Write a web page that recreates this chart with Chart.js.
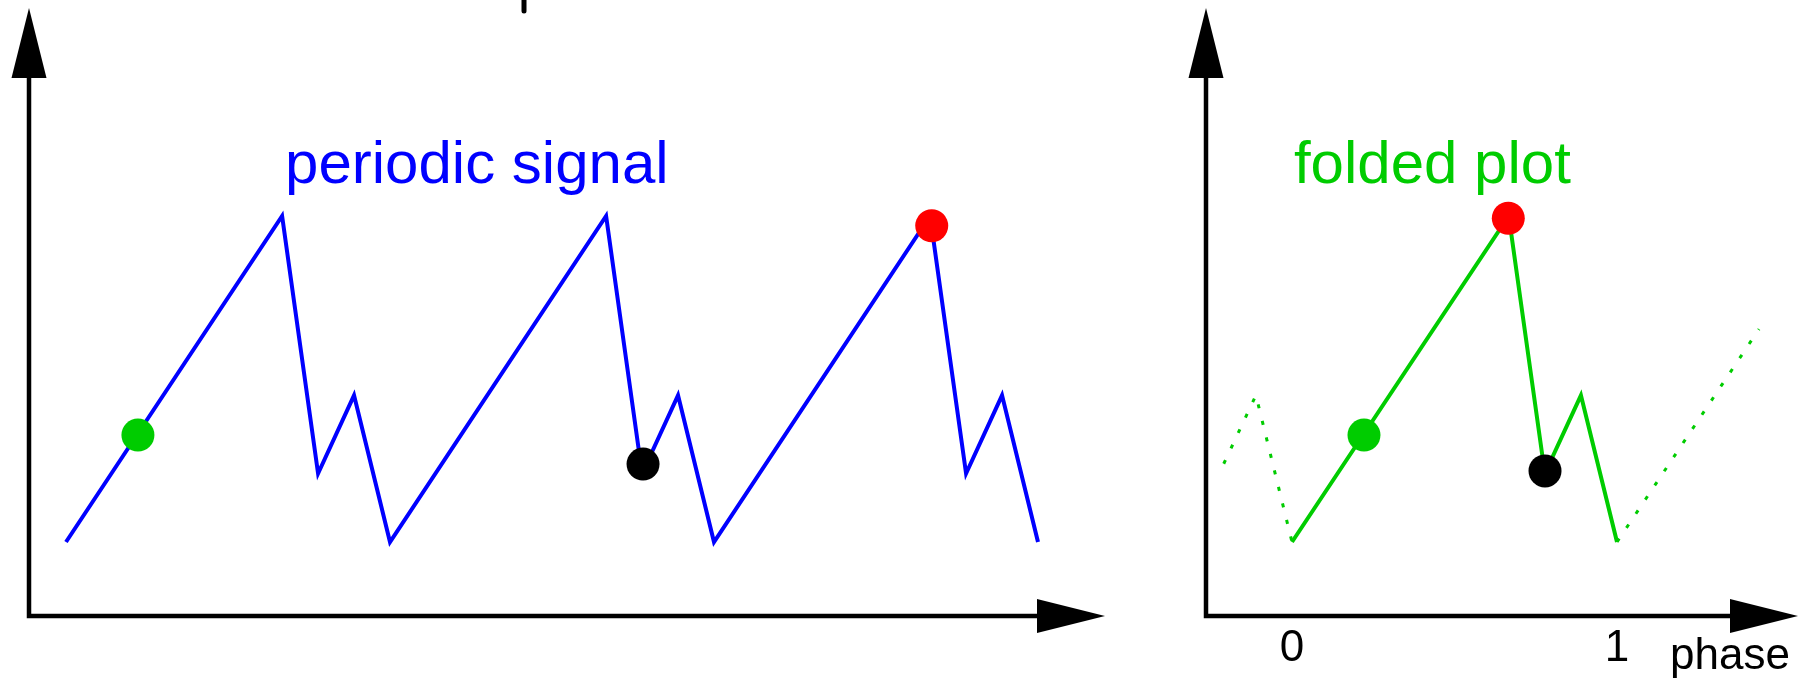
<!DOCTYPE html>
<html>
<head>
<meta charset="utf-8">
<title>periodic signal / folded plot</title>
<script src="https://cdn.jsdelivr.net/npm/chart.js@4.4.1/dist/chart.umd.min.js"></script>
<style>
    html, body { margin: 0; padding: 0; background: #fff; }
    body { width: 1799px; height: 680px; position: relative; overflow: hidden; }
    canvas { position: absolute; top: 0; }
    #signalChart { left: 0; }
    #foldedChart { left: 1180px; }
</style>
</head>
<body>
<canvas id="signalChart" width="1180" height="680"></canvas>
<canvas id="foldedChart" width="619" height="680"></canvas>
<script>
// time axis in units of one period, amplitude normalised to the peak
const signalT = [0, 0.667, 0.778, 0.889, 1, 1.667, 1.778, 1.889, 2, 2.667, 2.778, 2.889, 3];
const signalY = [0, 1, 0.21, 0.45, 0, 1, 0.21, 0.45, 0, 1, 0.21, 0.45, 0];

// three marked samples (green, black, red)
const markT = [0.222, 1.781, 2.672];
const markY = [0.328, 0.239, 0.970];

// same signal folded onto one period
const foldPhase = [0, 0.667, 0.778, 0.889, 1];
const foldY = [0, 1, 0.21, 0.45, 0];
const prePhase = [-0.21, -0.111, 0];
const preY = [0.24, 0.45, 0];
const postPhase = [1, 1.437];
const postY = [0, 0.653];

const foldMarkPhase = [0.2215, 0.7785, 0.6655];
const foldMarkY = [0.328, 0.218, 0.993];

const phaseTicks = ['0', '1'];
const markColors = ['#00cc00', '#000000', '#ff0000'];

const BLUE = '#0000ff';
const GREEN = '#00cc00';
const FONT = '"Liberation Sans", Arial, Helvetica, sans-serif';

const toPoints = (xs, ys) => xs.map((x, i) => ({ x: x, y: ys[i] }));

// axes with arrow heads, plus captions
const arrowAxes = {
    id: 'arrowAxes',
    afterDraw(chart, args, opts) {
        const { ctx, chartArea: a } = chart;
        ctx.save();
        ctx.fillStyle = '#000';
        ctx.strokeStyle = '#000';
        ctx.lineWidth = 4.5;
        ctx.lineCap = 'square';

        ctx.beginPath();
        ctx.moveTo(a.left, a.top + 60);
        ctx.lineTo(a.left, a.bottom);
        ctx.lineTo(a.right - 60, a.bottom);
        ctx.stroke();

        // arrow heads
        ctx.beginPath();
        ctx.moveTo(a.left, a.top);
        ctx.lineTo(a.left - 17.5, a.top + 70);
        ctx.lineTo(a.left + 17.5, a.top + 70);
        ctx.closePath();
        ctx.fill();

        ctx.beginPath();
        ctx.moveTo(a.right, a.bottom);
        ctx.lineTo(a.right - 68, a.bottom - 17);
        ctx.lineTo(a.right - 68, a.bottom + 17);
        ctx.closePath();
        ctx.fill();

        const xs = chart.scales.x;
        const ys = chart.scales.y;

        if (opts.caption) {
            ctx.font = '60px ' + FONT;
            ctx.fillStyle = opts.caption.color;
            ctx.textAlign = 'left';
            ctx.textBaseline = 'alphabetic';
            ctx.fillText(opts.caption.text, xs.getPixelForValue(opts.caption.x), ys.getPixelForValue(opts.caption.y));
        }

        if (opts.ticks) {
            ctx.font = '44px ' + FONT;
            ctx.fillStyle = '#000';
            ctx.textAlign = 'center';
            opts.ticks.forEach((t) => {
                ctx.fillText(t, xs.getPixelForValue(Number(t)), a.bottom + 45);
            });
            ctx.textAlign = 'right';
            ctx.fillText(opts.axisTitle, a.right - 8, a.bottom + 53);
        }

        if (opts.stubX !== undefined) {
            // stub of the line coming down from above the frame
            ctx.lineWidth = 5;
            ctx.lineCap = 'round';
            ctx.beginPath();
            const sx = xs.getPixelForValue(opts.stubX);
            ctx.moveTo(sx, -5);
            ctx.lineTo(sx, 11);
            ctx.stroke();
        }
        ctx.restore();
    }
};

const baseOptions = (xMin, xMax, pad) => ({
    responsive: false,
    animation: false,
    devicePixelRatio: 1,
    layout: { padding: pad, autoPadding: false },
    plugins: {
        legend: { display: false },
        tooltip: { enabled: false }
    },
    scales: {
        x: { type: 'linear', min: xMin, max: xMax, display: false },
        y: { type: 'linear', min: -0.227, max: 1.638, display: false }
    }
});

const lineSet = (data, color, dash) => ({
    type: 'scatter',
    data: data,
    showLine: true,
    borderColor: color,
    borderWidth: dash ? 3 : 4,
    borderDash: dash || [],
    borderCapStyle: 'butt',
    pointRadius: 0,
    tension: 0,
    clip: false,
    order: 2
});

const markSet = (xs, ys) => ({
    type: 'scatter',
    data: toPoints(xs, ys),
    pointRadius: 16.5,
    pointBorderWidth: 0,
    pointBackgroundColor: markColors,
    pointBorderColor: markColors,
    showLine: false,
    clip: false,
    order: 0
});

const signalOptions = baseOptions(-0.1142, 3.2068, { left: 29, right: 75, top: 8, bottom: 64 });
signalOptions.plugins.arrowAxes = {
    caption: { text: 'periodic signal', color: BLUE, x: 0.676, y: 1.101 },
    stubX: 1.4136
};

new Chart(document.getElementById('signalChart'), {
    type: 'scatter',
    data: {
        datasets: [
            markSet(markT, markY),
            lineSet(toPoints(signalT, signalY), BLUE)
        ]
    },
    options: signalOptions,
    plugins: [arrowAxes]
});

const foldedOptions = baseOptions(-0.2646, 1.5569, { left: 26, right: 1, top: 8, bottom: 64 });
foldedOptions.plugins.arrowAxes = {
    caption: { text: 'folded plot', color: GREEN, x: 0.006, y: 1.101 },
    ticks: phaseTicks,
    axisTitle: 'phase'
};

new Chart(document.getElementById('foldedChart'), {
    type: 'scatter',
    data: {
        datasets: [
            markSet(foldMarkPhase, foldMarkY),
            lineSet(toPoints(foldPhase, foldY), GREEN),
            lineSet(toPoints(prePhase, preY), GREEN, [4, 13]),
            lineSet(toPoints(postPhase, postY), GREEN, [4, 13])
        ]
    },
    options: foldedOptions,
    plugins: [arrowAxes]
});
</script>
</body>
</html>
